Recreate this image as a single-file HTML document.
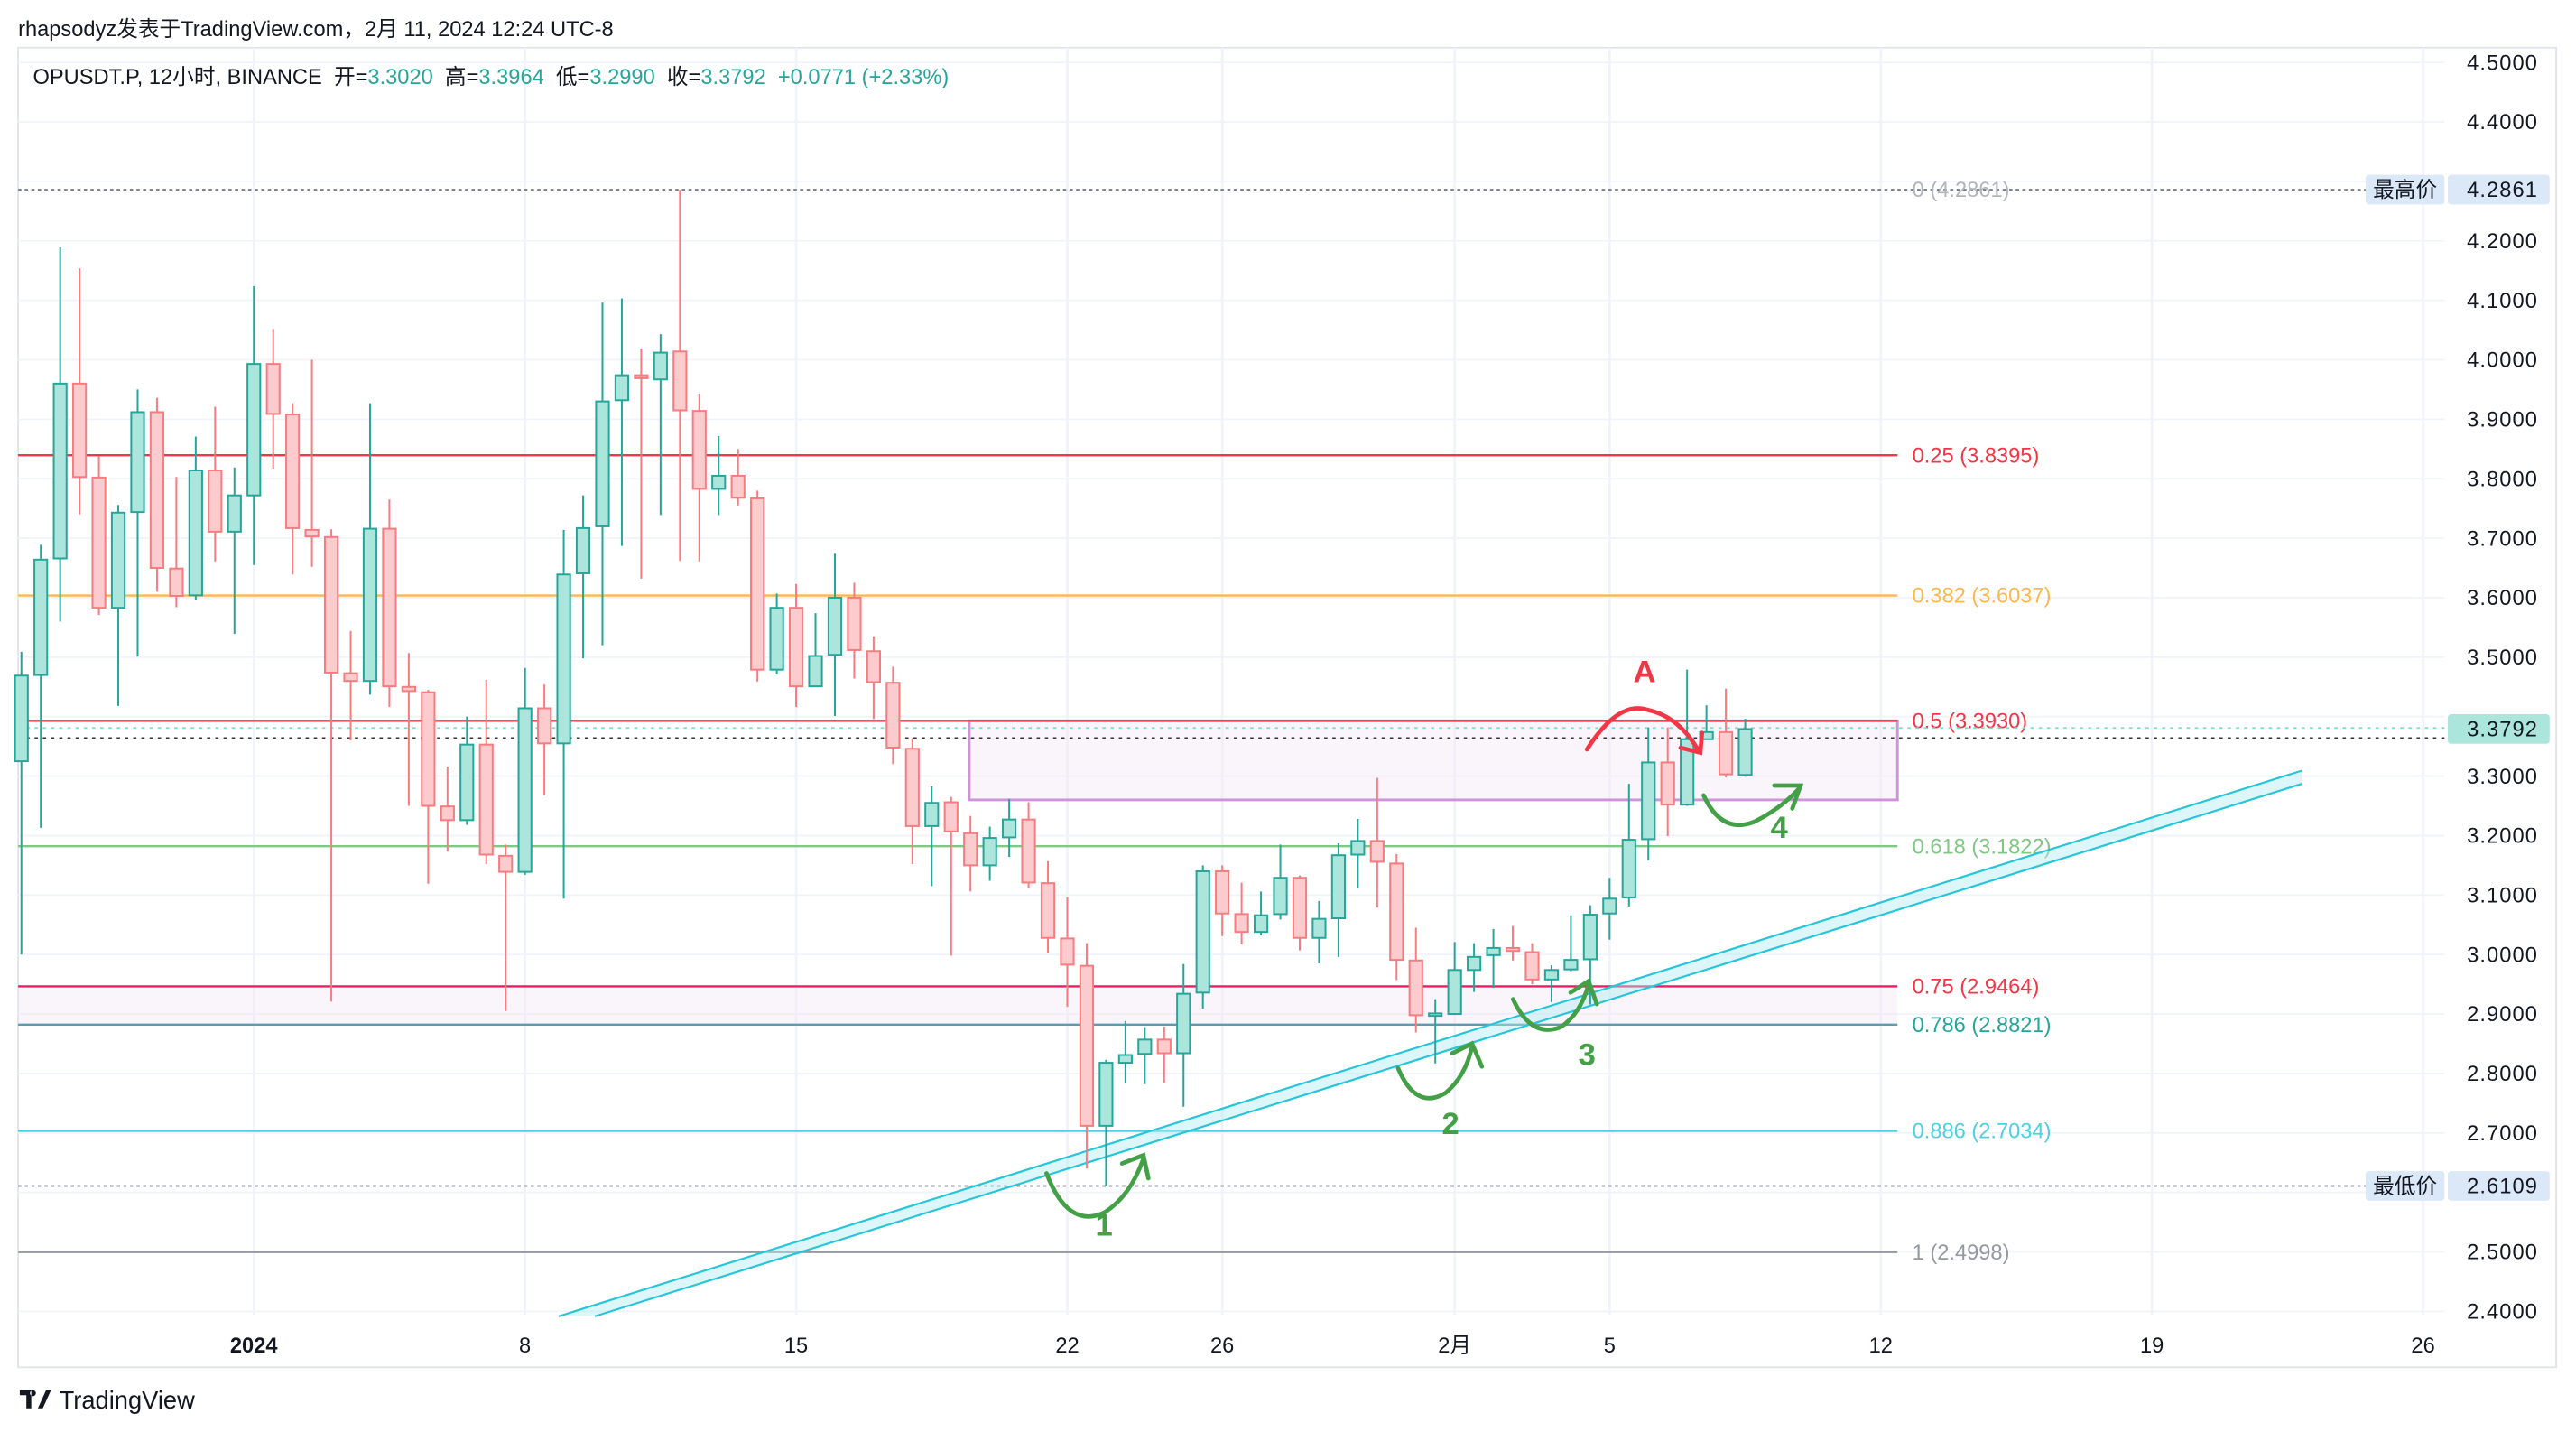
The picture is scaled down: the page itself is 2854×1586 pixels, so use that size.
<!DOCTYPE html>
<html><head><meta charset="utf-8"><style>
html,body{margin:0;padding:0;background:#fff;}
svg{display:block;}
text{font-family:"Liberation Sans","Noto Sans CJK SC",sans-serif;}
</style></head><body>
<svg id="chart" xmlns="http://www.w3.org/2000/svg" width="2854" height="1586" viewBox="0 0 1568 871.4">
<rect x="0" y="0" width="1568" height="872" fill="#fff"/>
<text x="11" y="22" font-size="13" fill="#131722">rhapsodyz发表于TradingView.com，2月 11, 2024 12:24 UTC-8</text>
<rect x="11" y="29" width="1545" height="803" fill="none" stroke="#e0e3eb" stroke-width="1"/>
<g id="grid"></g>
<g id="fib"></g>
<g id="channel"></g>
<g id="candles"></g>
<g id="annot"></g>
<g id="axes"></g>
<text x="20" y="51" font-size="13" fill="#131722" style="white-space:pre">OPUSDT.P, 12小时, BINANCE  开=<tspan fill="#26a69a">3.3020</tspan>  高=<tspan fill="#26a69a">3.3964</tspan>  低=<tspan fill="#26a69a">3.2990</tspan>  收=<tspan fill="#26a69a">3.3792  +0.0771 (+2.33%)</tspan></text>
<g>
<path d="M12 846h7v11h-3v-8h-4z M20 846a1.8 1.8 0 1 0 0.01 0z" fill="#131722"/>
<path d="M23 857l5-11h3l-5 11z" fill="#131722"/>
<text x="36" y="857" font-size="15" fill="#131722">TradingView</text>
</g>
</svg>
<script>
const opens  = [3.325,3.470,3.666,3.960,3.802,3.583,3.744,3.912,3.649,3.604,3.814,3.711,3.772,3.993,3.908,3.714,3.702,3.473,3.460,3.716,3.450,3.441,3.249,3.226,3.353,3.166,3.139,3.414,3.355,3.641,3.720,3.932,3.974,3.967,4.014,3.914,3.783,3.805,3.767,3.479,3.583,3.451,3.504,3.600,3.510,3.457,3.346,3.216,3.256,3.204,3.150,3.197,3.227,3.120,3.027,2.981,2.712,2.818,2.833,2.857,2.834,2.936,3.140,3.068,3.038,3.068,3.129,3.028,3.061,3.168,3.191,3.153,2.990,2.899,2.900,2.974,2.999,3.011,3.004,2.958,2.975,2.992,3.069,3.096,3.194,3.323,3.252,3.362,3.374,3.302];
const highs  = [3.509,3.689,4.189,4.154,3.838,3.756,3.950,3.936,3.803,3.871,3.921,3.819,4.124,4.052,3.927,4.000,3.715,3.544,3.927,3.765,3.507,3.445,3.316,3.400,3.462,3.185,3.482,3.454,3.714,3.772,4.096,4.103,4.019,4.043,4.286,3.943,3.872,3.850,3.780,3.607,3.623,3.574,3.674,3.625,3.535,3.484,3.364,3.283,3.265,3.233,3.215,3.262,3.256,3.157,3.096,3.019,2.823,2.888,2.878,2.879,2.984,3.150,3.150,3.121,3.106,3.185,3.133,3.090,3.187,3.228,3.297,3.169,3.045,2.925,3.021,3.019,3.043,3.048,3.019,2.982,3.066,3.083,3.129,3.287,3.382,3.382,3.479,3.419,3.447,3.3964];
const lows   = [3.000,3.213,3.560,3.740,3.571,3.418,3.501,3.610,3.584,3.597,3.661,3.539,3.655,3.817,3.639,3.652,2.921,3.360,3.437,3.416,3.250,3.119,3.173,3.218,3.152,2.905,3.134,3.268,3.094,3.498,3.520,3.687,3.632,3.739,3.662,3.661,3.739,3.755,3.459,3.471,3.416,3.451,3.401,3.464,3.396,3.320,3.152,3.115,2.998,3.106,3.124,3.164,3.111,3.002,2.912,2.640,2.611,2.783,2.782,2.784,2.744,2.909,3.031,3.017,3.032,3.059,3.007,2.985,2.996,3.111,3.079,2.957,2.869,2.817,2.900,2.937,2.944,2.990,2.950,2.920,2.972,2.916,3.025,3.081,3.158,3.199,3.250,3.362,3.298,3.299];
const closes = [3.469,3.664,3.960,3.803,3.583,3.743,3.912,3.650,3.603,3.814,3.711,3.772,3.993,3.909,3.717,3.703,3.474,3.460,3.716,3.451,3.443,3.250,3.226,3.353,3.168,3.139,3.414,3.355,3.639,3.717,3.930,3.974,3.969,4.012,3.915,3.783,3.805,3.768,3.479,3.583,3.451,3.502,3.600,3.512,3.458,3.348,3.216,3.255,3.207,3.150,3.196,3.227,3.121,3.028,2.983,2.712,2.818,2.831,2.857,2.834,2.934,3.140,3.069,3.038,3.066,3.129,3.028,3.060,3.167,3.191,3.156,2.991,2.898,2.901,2.974,2.996,3.011,3.006,2.958,2.974,2.991,3.067,3.094,3.193,3.323,3.252,3.362,3.374,3.303,3.3792];
const priceTicks = [4.5,4.4,4.2,4.1,4.0,3.9,3.8,3.7,3.6,3.5,3.3,3.2,3.1,3.0,2.9,2.8,2.7,2.5,2.4];
const timeTicks = ["2024","8","15","22","26","2月","5","12","19","26"];
const timeTickIdx = [12,26,40,54,62,74,82,96,110,124];
const fibLevels = [0,0.25,0.382,0.5,0.618,0.75,0.786,0.886,1];
const fibPrices = [4.2861,3.8395,3.6037,3.3930,3.1822,2.9464,2.8821,2.7034,2.4998];
const fibColors = ["#b2b5be","#f23645","#ffb74d","#f23645","#81c784","#e91e63","#5b9cb0","#4dd0e1","#9598a1"];
const fibLabelColors = ["#b2b5be","#f23645","#ffb74d","#f23645","#81c784","#f23645","#26a69a","#4dd0e1","#9598a1"];

const NS="http://www.w3.org/2000/svg";
const y = p => 38 + (4.5 - p) * 361.9;
const x = i => 13 + i * 11.79;
function mk(tag, attrs, parent){const e=document.createElementNS(NS,tag);for(const k in attrs)e.setAttribute(k,attrs[k]);parent.appendChild(e);return e;}
const grid=document.getElementById('grid'), fib=document.getElementById('fib'), cg=document.getElementById('candles'), ax=document.getElementById('axes'), ch=document.getElementById('channel');

for(let p=4.5;p>=2.39;p-=0.1){
  const l=mk('line',{x1:11,x2:1488,y1:y(p),y2:y(p),stroke:'#f0f3fa','stroke-width':1},grid);
  
  
}
timeTickIdx.forEach((ti,k)=>{
  const l=mk('line',{x1:x(ti),x2:x(ti),y1:29,y2:800,stroke:'#f0f3fa','stroke-width':1.5},grid);
  
  
  const t=mk('text',{x:x(ti),y:823,'font-size':13,'text-anchor':'middle',fill:'#131722','font-weight':k===0?'bold':'normal'},ax);
  t.textContent=timeTicks[k];
  
  
});

const b1=mk('rect',{x:590,y:y(3.393),width:565,height:y(3.26)-y(3.393),fill:'#f3e5f5','fill-opacity':0.4,stroke:'#ce93d8','stroke-width':1.6},fib);


const b2=mk('rect',{x:11,y:y(2.9464),width:1144,height:y(2.8821)-y(2.9464),fill:'#f3e5f5','fill-opacity':0.4,stroke:'none'},fib);



fibPrices.forEach((p,k)=>{
  const l=mk('line',{x1:11,x2:1155,y1:y(p),y2:y(p),stroke:fibColors[k],'stroke-width':1.3},fib);
  if(k===0){l.setAttribute('stroke-dasharray','2 2');l.setAttribute('x2',1440);l.setAttribute('stroke','#787b86');l.setAttribute('stroke-width',1);}
  
  
  const t=mk('text',{x:1164,y:y(p)+4.5,'font-size':13,fill:fibLabelColors[k]},fib);
  t.textContent=fibLevels[k]+' ('+p.toFixed(4)+')';
  
  
});
const lowL=mk('line',{x1:11,x2:1440,y1:y(2.6109),y2:y(2.6109),stroke:'#787b86','stroke-dasharray':'2 2','stroke-width':1},fib);


const cur1=mk('line',{x1:11,x2:1488,y1:y(3.381),y2:y(3.381),stroke:'#81d8cf','stroke-dasharray':'2 3','stroke-width':1},fib);


const cur2=mk('line',{x1:11,x2:1488,y1:y(3.364),y2:y(3.364),stroke:'#333','stroke-dasharray':'2 3','stroke-width':1},fib);



const chFill=mk('polygon',{points:'340,801 1401,469 1401,477 362,801',fill:'#b2ebf2','fill-opacity':0.45},ch);


const chU=mk('line',{x1:340,y1:801,x2:1401,y2:469,stroke:'#26c6da','stroke-width':1.2},ch);


const chL=mk('line',{x1:362,y1:801,x2:1401,y2:477,stroke:'#26c6da','stroke-width':1.2},ch);



for(let i=0;i<opens.length;i++){
  const o=opens[i],c=closes[i],up=c>=o;
  const col=up?'#26a69a':'#f77c80', fill=up?'#ace5dc':'#fccbcd';
  const g=mk('g',{},cg);
  
  
  mk('line',{x1:x(i),x2:x(i),y1:y(highs[i]),y2:y(lows[i]),stroke:col,'stroke-width':1.1},g);
  const top=y(Math.max(o,c)), h=Math.max(1.5,Math.abs(y(o)-y(c)));
  mk('rect',{x:x(i)-3.9,y:top,width:7.8,height:h,fill:fill,stroke:col,'stroke-width':1.1},g);
}

priceTicks.forEach(p=>{
  const t=mk('text',{x:1545,y:y(p)+4.5,'font-size':13,'text-anchor':'end',fill:'#131722','letter-spacing':'0.6'},ax);
  t.textContent=p.toFixed(4);
  
  
});
function tag(lbl,val,p,bg,name){
  const g=mk('g',{},ax);
  
  
  if(lbl){mk('rect',{x:1440,y:y(p)-9,width:48,height:18,rx:2,fill:'#dbe8f8'},g);
    const a=mk('text',{x:1464,y:y(p)+4.5,'font-size':13,'text-anchor':'middle',fill:'#131722'},g);a.textContent=lbl;}
  mk('rect',{x:1490,y:y(p)-9,width:62,height:18,rx:2,fill:bg},g);
  const b=mk('text',{x:1545,y:y(p)+4.5,'font-size':13,'text-anchor':'end',fill:'#131722','letter-spacing':'0.6'},g);b.textContent=val;
}
tag('最高价','4.2861',4.2861,'#dbe8f8','highest-price-tag');
tag('最低价','2.6109',2.6109,'#dbe8f8','lowest-price-tag');
tag(null,'3.3792',3.3792,'#ace5dc','last-price-tag');
</script>
<svg style="position:absolute;left:0;top:0" width="2854" height="1586" viewBox="0 0 1568 871.4">
<g fill="none" stroke="#43a047" stroke-width="2.6" stroke-linecap="round">
<path d="M637 714 Q650 748 672 738 Q688 728 696 705 M683 708 L696 703 L699 717"/>
<path d="M851 650 Q862 676 880 665 Q892 655 896 637 M884 641 L896 635 L902 649"/>
<path d="M921 608 Q932 632 950 625 Q962 617 967 599 M956 604 L967 597 L972 611"/>
<path d="M1037 484 Q1048 508 1068 500 Q1084 492 1095 480 M1080 478 L1096 478 L1091 492"/>
</g>
<path d="M966 456 Q985 426 1003 432 Q1022 436 1034 457 M1023 455 L1035 458 L1036 446" fill="none" stroke="#f23645" stroke-width="2.6" stroke-linecap="round"/>
<g font-family="Liberation Sans, sans-serif" font-weight="bold" font-size="19">
<text x="1001" y="415" text-anchor="middle" fill="#f23645">A</text>
<text x="672" y="752" text-anchor="middle" fill="#43a047">1</text>
<text x="883" y="690" text-anchor="middle" fill="#43a047">2</text>
<text x="966" y="648" text-anchor="middle" fill="#43a047">3</text>
<text x="1083" y="510" text-anchor="middle" fill="#43a047">4</text>
</g>
</svg>
</body></html>
